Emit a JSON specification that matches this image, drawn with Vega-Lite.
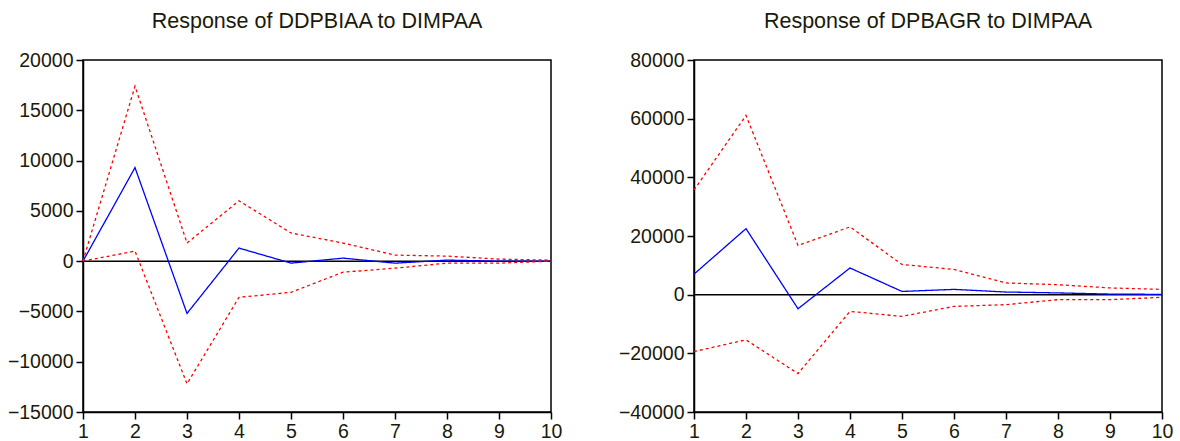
{
  "$schema": "https://vega.github.io/schema/vega-lite/v6.json",
  "background": "white",
  "padding": {"left": 6, "top": 9, "right": 5, "bottom": 0},
  "spacing": 54,
  "datasets": {
    "left": [
      {"step": 1, "series": "response", "value": 0},
      {"step": 2, "series": "response", "value": 9300},
      {"step": 3, "series": "response", "value": -5200},
      {"step": 4, "series": "response", "value": 1300},
      {"step": 5, "series": "response", "value": -200},
      {"step": 6, "series": "response", "value": 300},
      {"step": 7, "series": "response", "value": -200},
      {"step": 8, "series": "response", "value": 100},
      {"step": 9, "series": "response", "value": 0},
      {"step": 10, "series": "response", "value": 0},
      {"step": 1, "series": "upper", "value": 0},
      {"step": 2, "series": "upper", "value": 17400},
      {"step": 3, "series": "upper", "value": 1800},
      {"step": 4, "series": "upper", "value": 6000},
      {"step": 5, "series": "upper", "value": 2800},
      {"step": 6, "series": "upper", "value": 1800},
      {"step": 7, "series": "upper", "value": 600},
      {"step": 8, "series": "upper", "value": 500},
      {"step": 9, "series": "upper", "value": 200},
      {"step": 10, "series": "upper", "value": 100},
      {"step": 1, "series": "lower", "value": 0},
      {"step": 2, "series": "lower", "value": 1000},
      {"step": 3, "series": "lower", "value": -12200},
      {"step": 4, "series": "lower", "value": -3600},
      {"step": 5, "series": "lower", "value": -3100},
      {"step": 6, "series": "lower", "value": -1100},
      {"step": 7, "series": "lower", "value": -700},
      {"step": 8, "series": "lower", "value": -200},
      {"step": 9, "series": "lower", "value": -200},
      {"step": 10, "series": "lower", "value": 0}
    ],
    "right": [
      {"step": 1, "series": "response", "value": 7000},
      {"step": 2, "series": "response", "value": 22500},
      {"step": 3, "series": "response", "value": -4800},
      {"step": 4, "series": "response", "value": 9100},
      {"step": 5, "series": "response", "value": 1100},
      {"step": 6, "series": "response", "value": 1800},
      {"step": 7, "series": "response", "value": 900},
      {"step": 8, "series": "response", "value": 600},
      {"step": 9, "series": "response", "value": 200},
      {"step": 10, "series": "response", "value": 100},
      {"step": 1, "series": "upper", "value": 35700},
      {"step": 2, "series": "upper", "value": 61100},
      {"step": 3, "series": "upper", "value": 16800},
      {"step": 4, "series": "upper", "value": 23100},
      {"step": 5, "series": "upper", "value": 10300},
      {"step": 6, "series": "upper", "value": 8600},
      {"step": 7, "series": "upper", "value": 4000},
      {"step": 8, "series": "upper", "value": 3400},
      {"step": 9, "series": "upper", "value": 2300},
      {"step": 10, "series": "upper", "value": 1800},
      {"step": 1, "series": "lower", "value": -19400},
      {"step": 2, "series": "lower", "value": -15400},
      {"step": 3, "series": "lower", "value": -26900},
      {"step": 4, "series": "lower", "value": -5700},
      {"step": 5, "series": "lower", "value": -7400},
      {"step": 6, "series": "lower", "value": -4000},
      {"step": 7, "series": "lower", "value": -3400},
      {"step": 8, "series": "lower", "value": -1700},
      {"step": 9, "series": "lower", "value": -1700},
      {"step": 10, "series": "lower", "value": -900}
    ],
    "zero": [{"value": 0}]
  },
  "config": {
    "font": "Liberation Sans",
    "view": {"stroke": "black", "strokeWidth": 1.5},
    "axis": {
      "grid": false,
      "domainColor": "black",
      "domainWidth": 1.5,
      "tickColor": "black",
      "tickWidth": 1.5,
      "tickSize": 7,
      "labelFont": "Liberation Sans",
      "labelFontSize": 19.5,
      "labelColor": "#1a1a0a",
      "labelPadding": 3,
      "title": null
    },
    "title": {"font": "Liberation Sans", "fontSize": 21.5, "fontWeight": "normal", "color": "#1a1a0a", "offset": 18}
  },
  "hconcat": [
    {
      "width": 468,
      "height": 352,
      "title": "Response of DDPBIAA to DIMPAA",
      "layer": [
        {
          "data": {"name": "zero"},
          "mark": {"type": "rule", "color": "black", "strokeWidth": 1.5},
          "encoding": {"y": {"field": "value", "type": "quantitative", "scale": {"domain": [-15000, 20000]}}}
        },
        {
          "data": {"name": "left"},
          "mark": {"type": "line", "strokeWidth": 1.3},
          "encoding": {
            "x": {"field": "step", "type": "quantitative", "scale": {"domain": [1, 10], "nice": false}, "axis": {"values": [1,2,3,4,5,6,7,8,9,10], "format": "d", "labelFlush": false}},
            "y": {"field": "value", "type": "quantitative", "scale": {"domain": [-15000, 20000], "nice": false}, "axis": {"values": [-15000,-10000,-5000,0,5000,10000,15000,20000], "format": "d"}},
            "color": {"field": "series", "type": "nominal", "scale": {"domain": ["response", "upper", "lower"], "range": ["#0000ff", "#ff0000", "#ff0000"]}, "legend": null},
            "strokeDash": {"field": "series", "type": "nominal", "scale": {"domain": ["response", "upper", "lower"], "range": [[1, 0], [3, 3], [3, 3]]}, "legend": null}
          }
        }
      ]
    },
    {
      "width": 468,
      "height": 352,
      "title": "Response of DPBAGR to DIMPAA",
      "layer": [
        {
          "data": {"name": "zero"},
          "mark": {"type": "rule", "color": "black", "strokeWidth": 1.5},
          "encoding": {"y": {"field": "value", "type": "quantitative", "scale": {"domain": [-40000, 80000]}}}
        },
        {
          "data": {"name": "right"},
          "mark": {"type": "line", "strokeWidth": 1.3},
          "encoding": {
            "x": {"field": "step", "type": "quantitative", "scale": {"domain": [1, 10], "nice": false}, "axis": {"values": [1,2,3,4,5,6,7,8,9,10], "format": "d", "labelFlush": false}},
            "y": {"field": "value", "type": "quantitative", "scale": {"domain": [-40000, 80000], "nice": false}, "axis": {"values": [-40000,-20000,0,20000,40000,60000,80000], "format": "d"}},
            "color": {"field": "series", "type": "nominal", "scale": {"domain": ["response", "upper", "lower"], "range": ["#0000ff", "#ff0000", "#ff0000"]}, "legend": null},
            "strokeDash": {"field": "series", "type": "nominal", "scale": {"domain": ["response", "upper", "lower"], "range": [[1, 0], [3, 3], [3, 3]]}, "legend": null}
          }
        }
      ]
    }
  ]
}
